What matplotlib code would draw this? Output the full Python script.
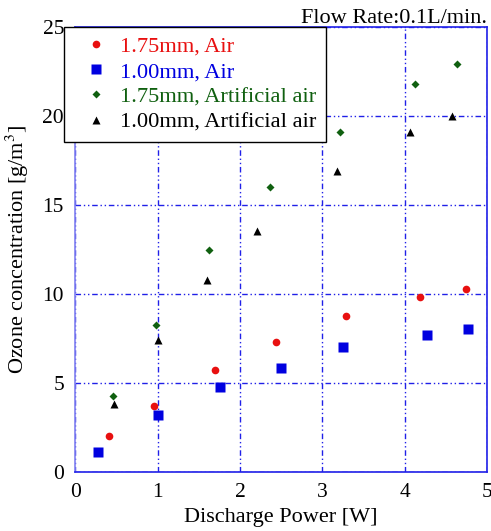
import matplotlib.pyplot as plt

# data
x_red = [0.41, 0.96, 1.70, 2.44, 3.29, 4.19, 4.74]
y_red = [2.05, 3.7, 5.73, 7.32, 8.78, 9.85, 10.3]
x_blue = [0.28, 1.01, 1.76, 2.50, 3.25, 4.27, 4.77]
y_blue = [1.1, 3.22, 4.78, 5.83, 7.0, 7.68, 8.02]
x_green = [0.46, 0.98, 1.63, 2.37, 3.22, 4.13, 4.64]
y_green = [4.25, 8.26, 12.45, 16.0, 19.1, 21.8, 22.9]
x_black = [0.47, 1.01, 1.60, 2.21, 3.18, 4.06, 4.57]
y_black = [3.8, 7.4, 10.8, 13.54, 16.9, 19.1, 20.0]
labels = ["1.75mm, Air", "1.00mm, Air", "1.75mm, Artificial air", "1.00mm, Artificial air"]

plt.rcParams['font.family'] = ['Liberation Serif', 'DejaVu Serif']
plt.rcParams['mathtext.fontset'] = 'stix'

fig = plt.figure(figsize=(4.91, 5.31), dpi=100)
ax = fig.add_axes([0.153, 0.111, 0.839, 0.838])

ax.plot(x_red, y_red, 'o', color='#e81010', ms=5.5, mec='none', label=labels[0])
ax.plot(x_blue, y_blue, 's', color='#0000e0', ms=7, mec='none', label=labels[1])
ax.plot(x_green, y_green, 'D', color='#106010', ms=4, mec='none', label=labels[2])
ax.plot(x_black, y_black, '^', color='black', ms=5.5, mec='none', label=labels[3])

ax.set_xlim(0, 5)
ax.set_ylim(0, 25)
ax.set_xticks(range(0, 6))
ax.set_yticks(range(0, 26, 5))
ax.tick_params(length=0, labelsize=15.5, pad=8)
ax.grid(True, color='#2020e8', lw=1, linestyle=(0, (4, 2, 1, 2, 1, 2)))
for s in ax.spines.values():
    s.set_color('#2020e8')
    s.set_linewidth(1.2)
ax.spines['left'].set_color('#8080f0')

ax.set_xlabel('Discharge Power [W]', fontsize=16, labelpad=4)
ax.set_ylabel('Ozone concentration [g/m$^3$]', fontsize=16, labelpad=8)

fig.text(0.992, 0.966, 'Flow Rate:0.1L/min.', ha='right', va='center', fontsize=16)

leg = ax.legend(loc='upper left', bbox_to_anchor=(-0.027, 1.0), fontsize=16.2,
                frameon=True, fancybox=False, edgecolor='black', framealpha=1,
                handlelength=2.0, handletextpad=0.1, borderpad=0.4, labelspacing=0.2,
                borderaxespad=0)
leg.get_frame().set_linewidth(1.0)
text_colors = ['#e81010', '#0000e0', '#106010', 'black']
for t, c in zip(leg.get_texts(), text_colors):
    t.set_color(c)

fig.savefig('out.png', dpi=100)
